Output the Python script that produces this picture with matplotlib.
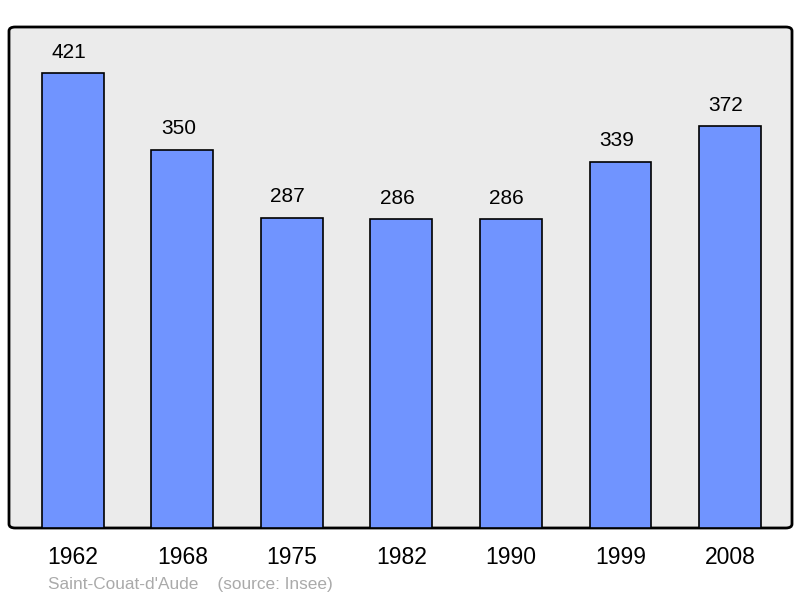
import matplotlib.pyplot as plt
from matplotlib.patches import FancyBboxPatch

years = ["1962", "1968", "1975", "1982", "1990", "1999", "2008"]
population = [421, 350, 287, 286, 286, 339, 372]

plt.rcParams['font.family'] = ['Liberation Sans', 'DejaVu Sans']

fig = plt.figure(figsize=(8, 5.98), dpi=100)
# axes box in pixels: x 9..792, y 27..528
ax = fig.add_axes([9 / 800, 1 - 528 / 598, 783 / 800, 501 / 598])
ax.set_facecolor('none')

# rounded frame with light grey fill
frame = FancyBboxPatch((0, 0), 1, 1, boxstyle="round,pad=0,rounding_size=0.008",
                       transform=ax.transAxes, facecolor='#ebebeb', edgecolor='black',
                       linewidth=2, zorder=0, clip_on=False)
ax.add_patch(frame)
for s in ax.spines.values():
    s.set_visible(False)

x = range(len(years))
bars = ax.bar(x, population, width=0.566, color='#7094ff', edgecolor='black',
              linewidth=1.2, zorder=2)
for xi, v in zip(x, population):
    ax.annotate(str(v), (xi, v), xytext=(-3, 15), textcoords='offset points',
                ha='center', va='center', fontsize=15, color='black')

ax.set_xlim(-0.584, 6.566)
ax.set_ylim(0, 463.5)
ax.set_yticks([])
ax.set_xticks(list(x))
ax.set_xticklabels(years, fontsize=16.5)
ax.tick_params(axis='x', length=0, pad=13)

fig.text(48 / 800, 1 - 584 / 598, "Saint-Couat-d'Aude    (source: Insee)",
         fontsize=12.4, color='#aaaaaa', ha='left', va='center')

fig.savefig("out.png", dpi=100)
